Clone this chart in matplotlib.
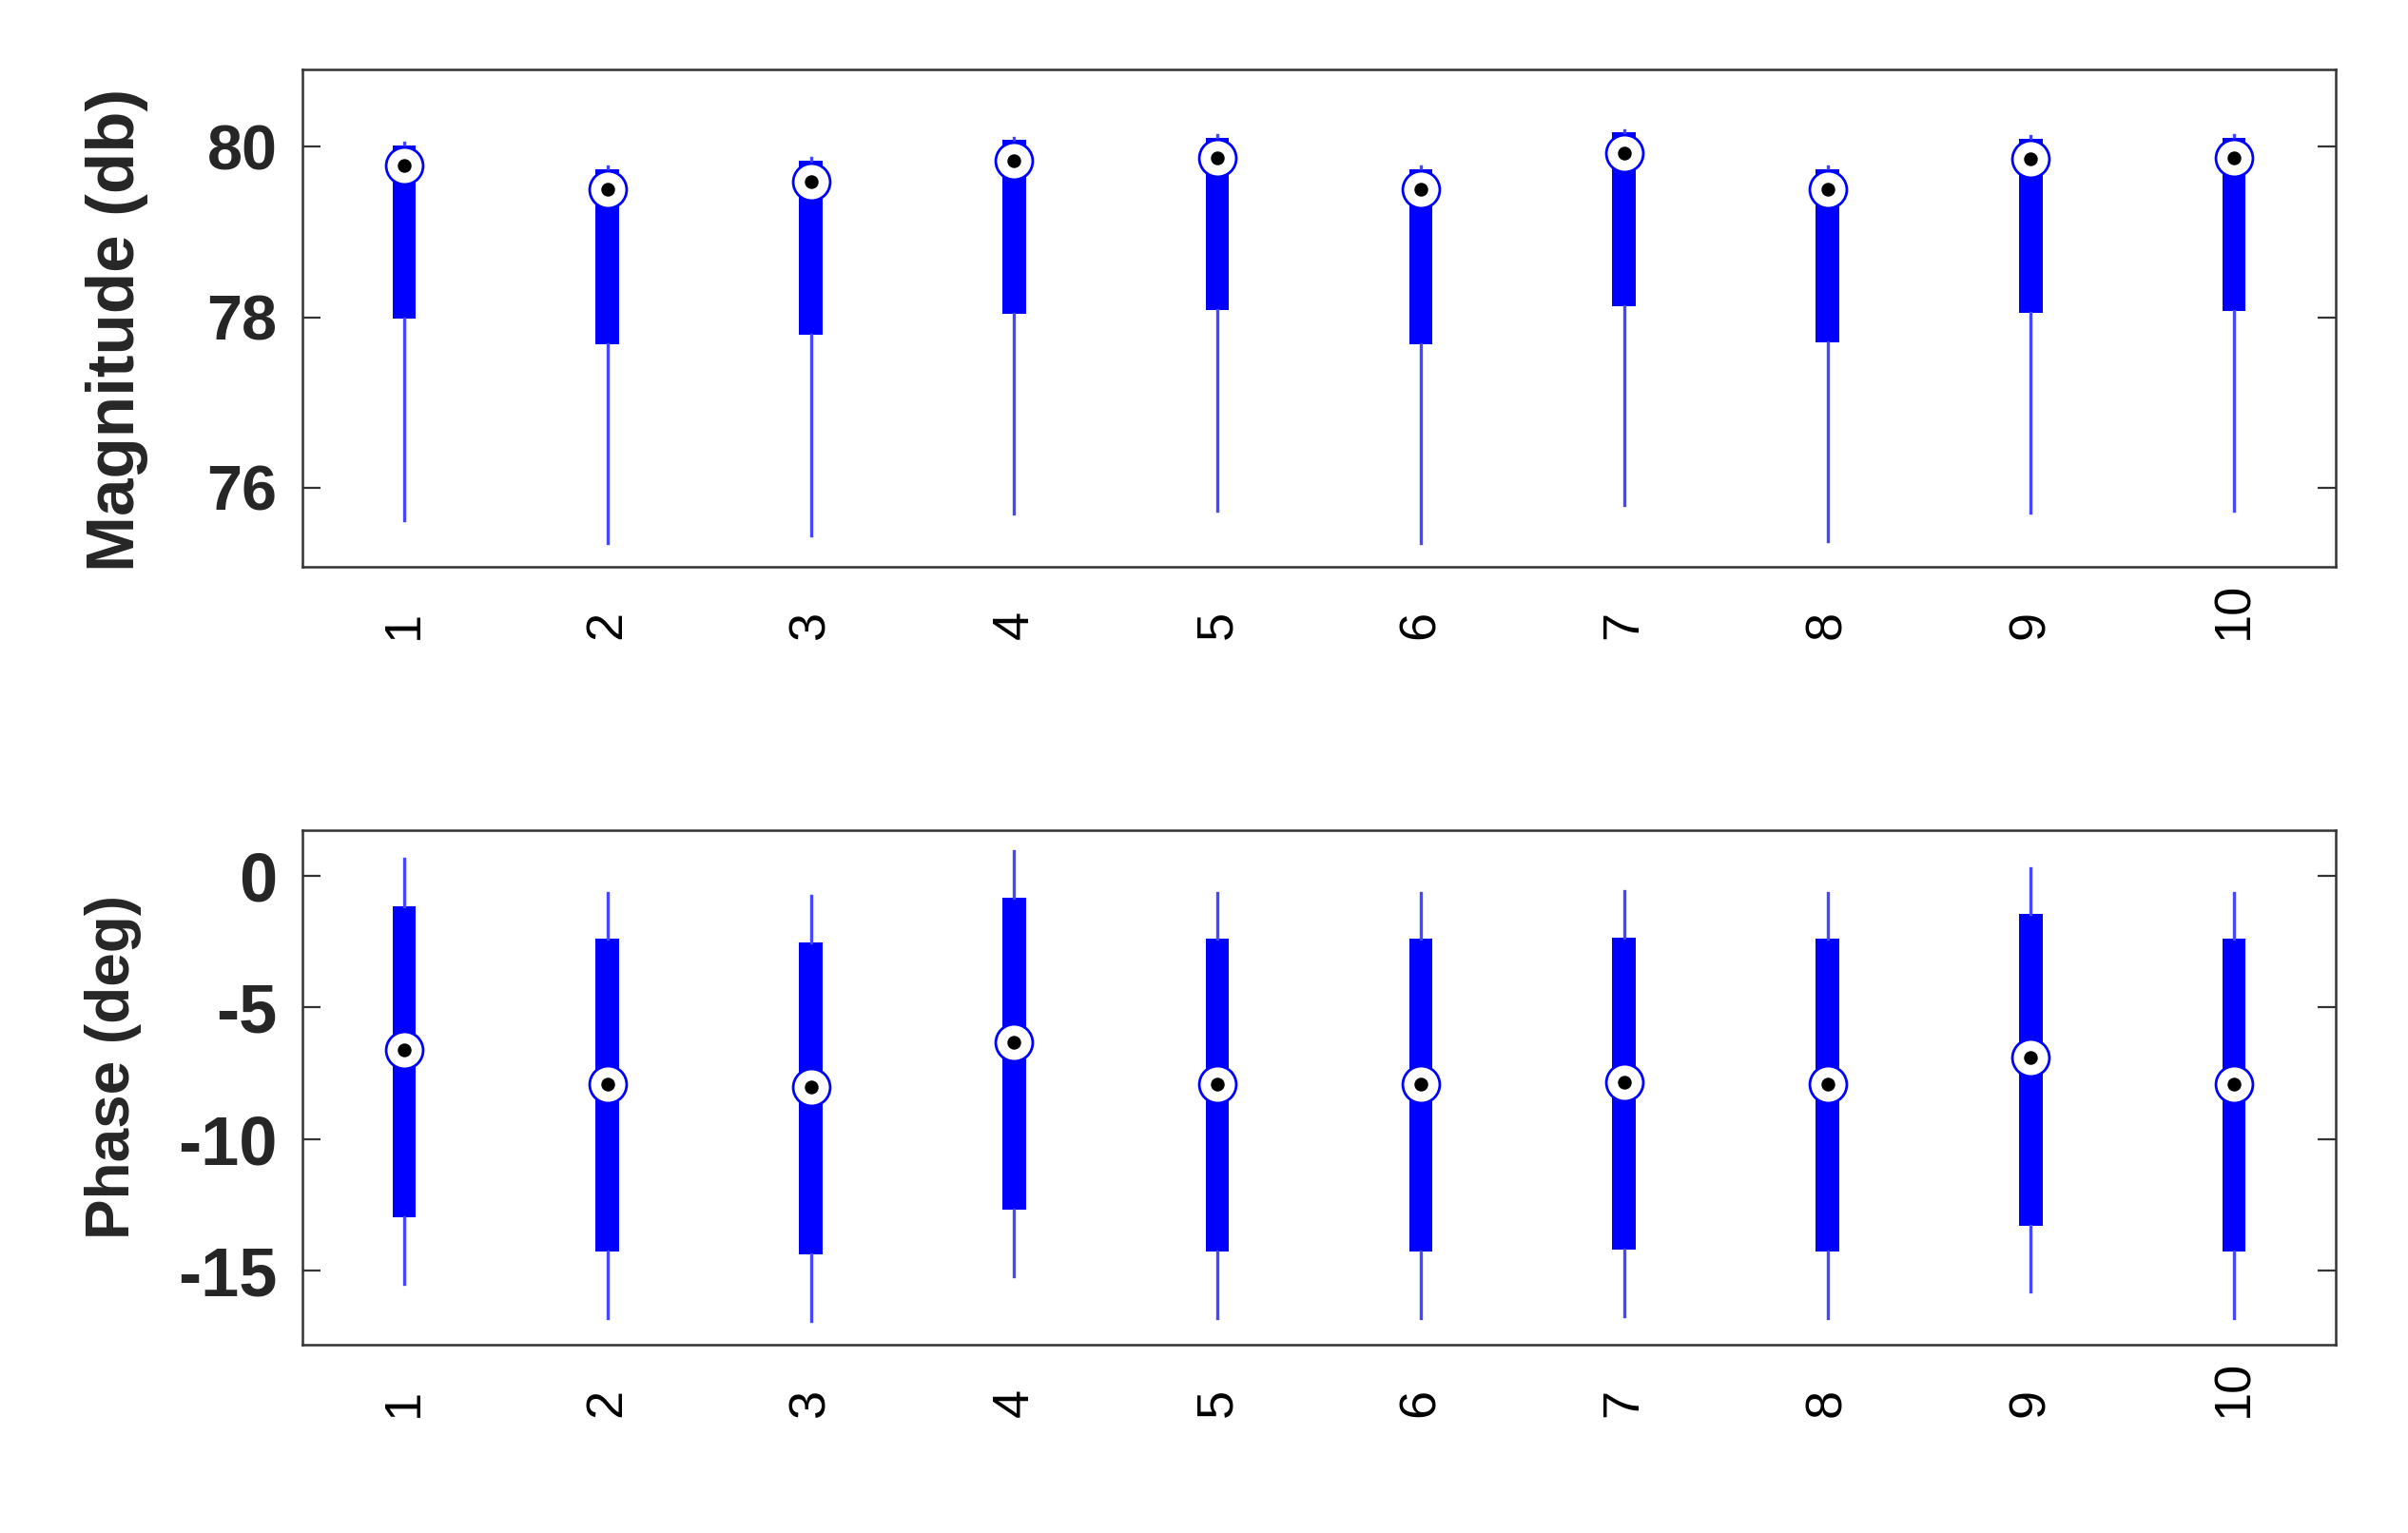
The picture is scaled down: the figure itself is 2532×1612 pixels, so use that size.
import numpy as np
import matplotlib.pyplot as plt

plt.rcParams['font.family'] = ['Liberation Sans', 'DejaVu Sans']
plt.rcParams['axes.unicode_minus'] = False

groups = [str(i) for i in range(1, 11)]

# magnitude (db)
mag_hi = [80.05, 79.77, 79.87, 80.11, 80.14, 79.77, 80.20, 79.77, 80.13, 80.14]
mag_q3 = [80.02, 79.74, 79.84, 80.08, 80.11, 79.74, 80.17, 79.74, 80.10, 80.11]
mag_med = [79.78, 79.50, 79.59, 79.84, 79.87, 79.50, 79.93, 79.50, 79.86, 79.87]
mag_q1 = [77.98, 77.68, 77.80, 78.04, 78.09, 77.68, 78.13, 77.70, 78.05, 78.07]
mag_lo = [75.62, 75.35, 75.44, 75.69, 75.73, 75.35, 75.80, 75.37, 75.71, 75.73]

# phase (deg)
ph_hi = [0.64, -0.64, -0.76, 0.94, -0.64, -0.64, -0.58, -0.64, 0.29, -0.64]
ph_q3 = [-1.17, -2.40, -2.52, -0.82, -2.40, -2.40, -2.34, -2.40, -1.46, -2.40]
ph_med = [-6.62, -7.91, -8.03, -6.33, -7.91, -7.91, -7.85, -7.91, -6.91, -7.91]
ph_q1 = [-13.00, -14.29, -14.41, -12.71, -14.29, -14.29, -14.23, -14.29, -13.30, -14.29]
ph_lo = [-15.52, -16.81, -16.93, -15.23, -16.81, -16.81, -16.75, -16.81, -15.81, -16.81]

W, H = 2532, 1612
fig = plt.figure(figsize=(W / 200, H / 200), dpi=200)

def px_rect(x0, y0, x1, y1):
    return [x0 / W, 1 - y1 / H, (x1 - x0) / W, (y1 - y0) / H]

ax1 = fig.add_axes(px_rect(318, 73, 2456, 596))
ax2 = fig.add_axes(px_rect(318, 873, 2456, 1414))

pos = np.arange(1, len(groups) + 1)

def draw(ax, lo, q1, med, q3, hi, ylim, yticks, ylabel, tsize, lsize, lcoords):
    stats = [dict(whislo=a, q1=b, med=c, q3=d, whishi=e, fliers=[])
             for a, b, c, d, e in zip(lo, q1, med, q3, hi)]
    ax.bxp(stats, positions=pos, widths=0.115, patch_artist=True,
           showcaps=False, showfliers=False,
           boxprops=dict(facecolor="blue", edgecolor="none"),
           whiskerprops=dict(color="#4646ff", linewidth=1.2),
           medianprops=dict(linewidth=0))
    ax.plot(pos, med, "o", ms=14, mfc="white", mec="blue", mew=1.0, zorder=5)
    ax.plot(pos, med, "o", ms=4.2, color="black", zorder=6)

    ax.set_xlim(0.5, 10.5)
    ax.set_ylim(*ylim)
    ax.set_yticks(yticks)
    ax.set_xticks(pos, groups)
    ax.tick_params(axis="y", direction="in", left=True, right=True,
                   length=7, width=0.8, color="#333333", labelsize=tsize, pad=9.5)
    ax.tick_params(axis="x", length=0, labelsize=19.5, pad=27.5, labelrotation=90)
    plt.setp(ax.get_xticklabels(), rotation_mode="anchor", ha="left", va="center")
    for lbl in ax.get_yticklabels():
        lbl.set_fontweight("bold")
        lbl.set_color("#262626")
    for s in ax.spines.values():
        s.set_color("#333333")
        s.set_linewidth(0.9)
    ax.set_ylabel(ylabel, fontsize=lsize, fontweight="bold", color="#262626")
    ax.yaxis.set_label_coords(*lcoords)

draw(ax1, mag_lo, mag_q1, mag_med, mag_q3, mag_hi, (75.07, 80.91), [76, 78, 80],
     "Magnitude (db)", 24, 25.5, (-0.076, 0.476))
draw(ax2, ph_lo, ph_q1, ph_med, ph_q3, ph_hi, (-17.83, 1.74), [-15, -10, -5, 0],
     "Phase (deg)", 26, 23, (-0.079, 0.54))

fig.savefig("out.png", dpi=200)
